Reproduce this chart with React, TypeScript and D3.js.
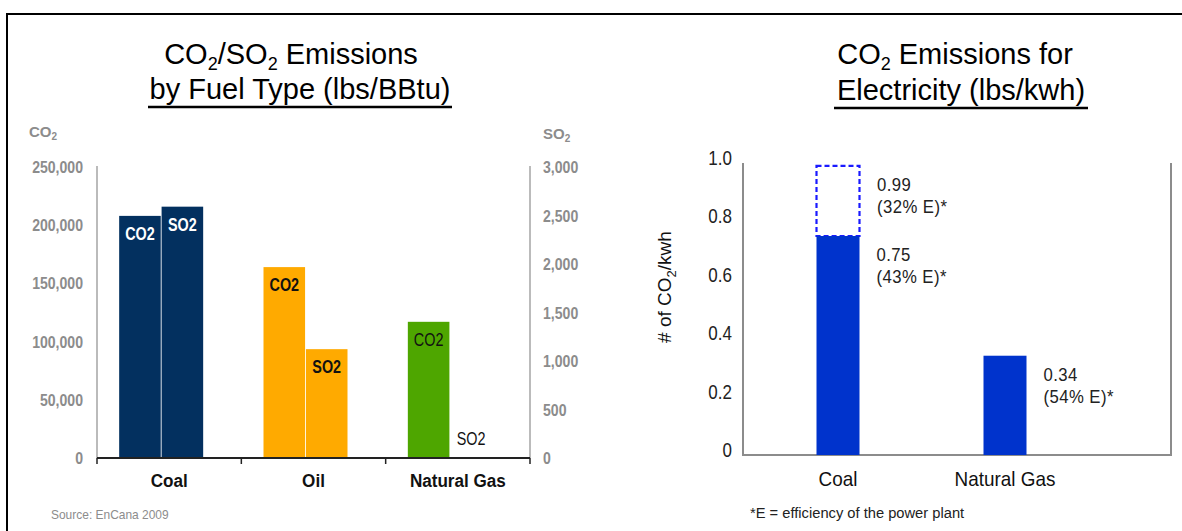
import React from "react";
import * as d3 from "d3";

const fuelCategories = ["Coal", "Oil", "Natural Gas"];
const co2Values = [208000, 164000, 117000];
const so2Values = [2591, 1122, 0.6];
const leftTicks = [0, 50000, 100000, 150000, 200000, 250000];
const rightTicks = [0, 500, 1000, 1500, 2000, 2500, 3000];
const seriesNames = ["CO2", "SO2"];

const elecCategories = ["Coal", "Natural Gas"];
const elecValues = [0.75, 0.34];
const elecLabelLines = [["0.75", "(43% E)*"], ["0.34", "(54% E)*"]];
const coalLowEffValue = 0.99;
const coalLowEffLabel = ["0.99", "(32% E)*"];
const elecTicks = [0, 0.2, 0.4, 0.6, 0.8, 1.0];

const FONT = "'Liberation Sans', Arial, sans-serif";
const fuelColors = ["#03305f", "#ffaa00", "#4ea600"];
const labelColors = ["#ffffff", "#111111", "#111111"];
const labelWeights = ["bold", "bold", "normal"];
const tickGray = "#8c8c8c";

type NTProps = {
  x: number;
  y: number;
  sx?: number;
  anchor?: "start" | "middle" | "end";
  size: number;
  weight?: string;
  fill?: string;
  ls?: number;
  children: React.ReactNode;
};

function NT({ x, y, sx = 1, anchor = "start", size, weight = "normal", fill = "#111", ls = 0, children }: NTProps) {
  return (
    <text
      transform={`translate(${x},${y}) scale(${sx},1)`}
      textAnchor={anchor}
      fontFamily={FONT}
      fontSize={size}
      fontWeight={weight}
      fill={fill}
      letterSpacing={ls}
    >
      {children}
    </text>
  );
}

export default function App() {
  // left chart scales
  const xL = d3.scaleBand<string>().domain(fuelCategories).range([97, 530]);
  const yCO2 = d3.scaleLinear().domain([0, 250000]).range([458, 167]);
  const ySO2 = d3.scaleLinear().domain([0, 3000]).range([458, 167]);
  const inner = d3.scaleBand<string>().domain(seriesNames).range([0, 84]).paddingInner(0.02);
  const groupOffset = (c: string) => xL(c)! + xL.bandwidth() / 2 - 50;

  // right chart scales
  const xR = d3.scalePoint<string>().domain(elecCategories).range([838, 1005]);
  const yR = d3.scaleLinear().domain([0, 1]).range([455, 163]);
  const barW = 43;

  const fmt = d3.format(",");

  return (
    <svg width={1182} height={531} style={{ position: "absolute", left: 0, top: 0, background: "#fff" }}>
      <rect x={0} y={0} width={1182} height={531} fill="#fff" />
      <path d="M7,531 V14 H1182" fill="none" stroke="#000" strokeWidth={2} />

      {/* left titles */}
      <NT x={291} y={64} anchor="middle" size={29} fill="#000">
        CO<tspan dy={6} fontSize={18}>2</tspan>
        <tspan dy={-6}>/SO</tspan>
        <tspan dy={6} fontSize={18}>2</tspan>
        <tspan dy={-6}> Emissions</tspan>
      </NT>
      <NT x={300} y={99} anchor="middle" size={29} fill="#000">
        by Fuel Type (lbs/BBtu)
      </NT>
      <line x1={148} x2={452} y1={107} y2={107} stroke="#000" strokeWidth={2.5} />

      <NT x={29} y={137} size={15} weight="bold" fill={tickGray}>
        CO<tspan dy={3} fontSize={10}>2</tspan>
      </NT>
      <NT x={543} y={139} size={15} weight="bold" fill={tickGray}>
        SO<tspan dy={3} fontSize={10}>2</tspan>
      </NT>

      {/* left / right value axes */}
      <line x1={97} x2={97} y1={166} y2={458} stroke="#aaaaaa" strokeWidth={1.6} />
      <line x1={530} x2={530} y1={166} y2={458} stroke="#aaaaaa" strokeWidth={1.6} />
      {leftTicks.map((t) => (
        <NT key={t} x={83} y={yCO2(t) + 6} anchor="end" size={16} sx={0.88} weight="bold" fill={tickGray}>
          {fmt(t)}
        </NT>
      ))}
      {rightTicks.map((t) => (
        <NT key={t} x={543} y={ySO2(t) + 6} anchor="start" size={16} sx={0.88} weight="bold" fill={tickGray}>
          {fmt(t)}
        </NT>
      ))}

      {/* bars */}
      {fuelCategories.map((c, i) => {
        const g = groupOffset(c);
        const vals = [yCO2(co2Values[i]), ySO2(so2Values[i])];
        return (
          <g key={c}>
            {seriesNames.map((s, j) => {
              const x = g + inner(s)!;
              const top = vals[j];
              const h = 458 - top;
              const small = h < 30;
              return (
                <g key={s}>
                  <rect x={x} y={top} width={inner.bandwidth()} height={h} fill={fuelColors[i]} />
                  <NT
                    x={x + inner.bandwidth() / 2}
                    y={small ? 445 : top + 24}
                    anchor="middle"
                    size={18}
                    sx={0.8}
                    weight={labelWeights[i]}
                    fill={small ? "#111" : labelColors[i]}
                  >
                    {s}
                  </NT>
                </g>
              );
            })}
          </g>
        );
      })}

      {/* baseline with ticks */}
      <line x1={97} x2={530} y1={458} y2={458} stroke="#222" strokeWidth={2} />
      {[...fuelCategories.map((c) => xL(c)!), 530].map((x, k) => (
        <line key={k} x1={x} x2={x} y1={458} y2={464} stroke="#222" strokeWidth={1.5} />
      ))}
      {fuelCategories.map((c) => (
        <NT key={c} x={xL(c)! + xL.bandwidth() / 2} y={487} anchor="middle" size={19} sx={0.9} weight="bold" fill="#111">
          {c}
        </NT>
      ))}
      <NT x={51} y={519} size={13} sx={0.92} fill={tickGray}>
        Source: EnCana 2009
      </NT>

      {/* right titles */}
      <NT x={955} y={64} anchor="middle" size={29} fill="#000">
        CO<tspan dy={6} fontSize={18}>2</tspan>
        <tspan dy={-6}> Emissions for</tspan>
      </NT>
      <NT x={961} y={100} anchor="middle" size={29} fill="#000">
        Electricity (lbs/kwh)
      </NT>
      <line x1={834} x2={1088} y1={108} y2={108} stroke="#000" strokeWidth={2.5} />

      {/* right frame */}
      <path d="M743,163 V455 H1171 V163" fill="none" stroke="#8c8c8c" strokeWidth={2} />
      {elecTicks.map((t) => (
        <NT key={t} x={732} y={yR(t) + 2} anchor="end" size={20} sx={0.85} fill="#222">
          {t === 0 ? "0" : d3.format(".1f")(t)}
        </NT>
      ))}
      <text transform="translate(671,287) rotate(-90)" textAnchor="middle" fontFamily={FONT} fontSize={19} fill="#111">
        # of CO<tspan dy={5} fontSize={13}>2</tspan>
        <tspan dy={-5}>/kwh</tspan>
      </text>

      {/* dashed low-efficiency coal */}
      <rect
        x={xR("Coal")! - barW / 2}
        y={yR(coalLowEffValue)}
        width={barW}
        height={yR(elecValues[0]) - yR(coalLowEffValue)}
        fill="none"
        stroke="#1a1aff"
        strokeWidth={2.2}
        strokeDasharray="5,3"
      />
      <NT x={877} y={191} size={19} sx={0.88} ls={0.5} fill="#222">
        {coalLowEffLabel[0]}
      </NT>
      <NT x={877} y={213} size={19} sx={0.88} ls={0.5} fill="#222">
        {coalLowEffLabel[1]}
      </NT>
      {elecCategories.map((c, i) => {
        const lx = xR(c)! + barW / 2 + 17;
        const ly = yR(elecValues[i]) + 25;
        return (
          <g key={c}>
            <rect x={xR(c)! - barW / 2} y={yR(elecValues[i])} width={barW} height={455 - yR(elecValues[i])} fill="#0033cc" />
            <NT x={lx} y={ly} size={19} sx={0.88} ls={0.5} fill="#222">
              {elecLabelLines[i][0]}
            </NT>
            <NT x={lx} y={ly + 22} size={19} sx={0.88} ls={0.5} fill="#222">
              {elecLabelLines[i][1]}
            </NT>
            <NT x={xR(c)!} y={486} anchor="middle" size={21} sx={0.9} fill="#111">
              {c}
            </NT>
          </g>
        );
      })}
      <NT x={750} y={518} size={15} sx={0.98} fill="#222">
        *E = efficiency of the power plant
      </NT>
    </svg>
  );
}
